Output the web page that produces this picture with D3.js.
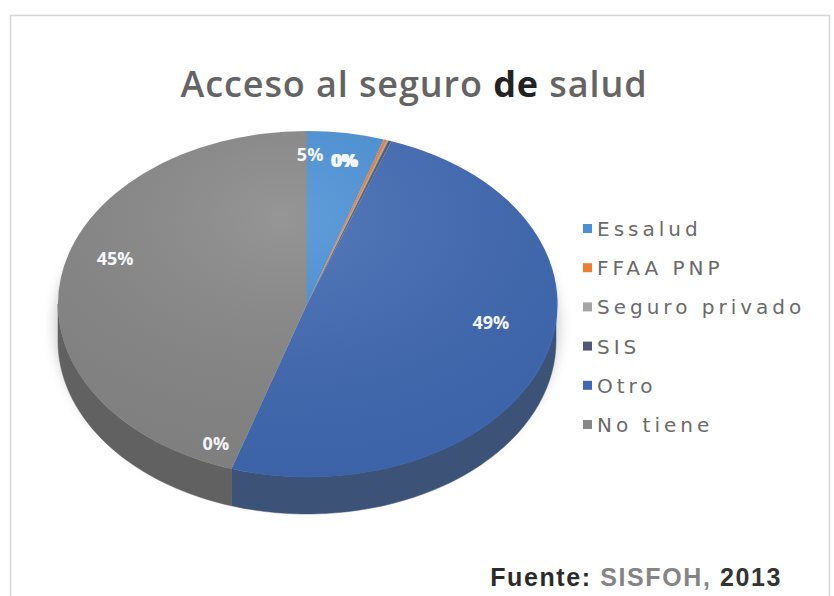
<!DOCTYPE html>
<html>
<head>
<meta charset="utf-8">
<script src="https://cdn.jsdelivr.net/npm/d3@7"></script>
<style>
  body { margin: 0; background: #fff; }
</style>
</head>
<body>
<div class="chart"></div>
<script>
const categories = ['Essalud', 'FFAA PNP', 'Seguro privado', 'SIS', 'Otro', 'No tiene'];
const values = [5.0, 0.2, 0.1, 0.2, 49.4, 45.1];
const labels = ['5%', '0%', '0%', '0%', '49%', '45%'];
const colors = ['#4a90d6', '#ed7d31', '#a5a5a5', '#4f5873', '#4069b3', '#878787'];

function renderPie() {
    const width = 834, height = 596;
    const cx = 307, cy = 304, rx = 249, ry = 173, depth = 37;

    const svg = d3.select('.chart').append('svg')
        .attr('width', width)
        .attr('height', height)
        .attr('viewBox', [0, 0, width, height]);

    const defs = svg.append('defs');
    defs.append('filter').attr('id', 'blur')
        .attr('x', '-20%').attr('y', '-20%').attr('width', '140%').attr('height', '140%')
        .append('feGaussianBlur').attr('stdDeviation', 6);
    const grad = defs.append('radialGradient').attr('id', 'shine')
        .attr('cx', '45%').attr('cy', '25%').attr('r', '75%');
    grad.append('stop').attr('offset', '0%').attr('stop-color', '#fff').attr('stop-opacity', 0.12);
    grad.append('stop').attr('offset', '100%').attr('stop-color', '#000').attr('stop-opacity', 0.06);

    // chart frame
    svg.append('rect')
        .attr('x', 10.5).attr('y', 15.5)
        .attr('width', 819).attr('height', 600)
        .attr('fill', 'none')
        .attr('stroke', '#d6d6d6')
        .attr('stroke-width', 1.5);

    // title
    const title = svg.append('text')
        .attr('x', 414).attr('y', 97)
        .attr('text-anchor', 'middle')
        .style('font-family', '"Open Sans", sans-serif')
        .style('font-size', '36px')
        .style('font-weight', 600)
        .style('letter-spacing', '0.9px')
        .attr('fill', '#646464');
    title.append('tspan').text('Acceso al seguro ');
    title.append('tspan').text('de').attr('fill', '#222').attr('font-weight', 'bold');
    title.append('tspan').text(' salud');

    const color = d3.scaleOrdinal().domain(categories).range(colors);
    const sideColor = d => d3.interpolateRgb(color(d), '#3a3a3a')(0.5);

    const pie = d3.pie().sort(null).value(d => d.value);
    const arcs = pie(categories.map((c, i) => ({name: c, value: values[i], label: labels[i]})));

    const ex = a => cx + rx * Math.sin(a);
    const ey = a => cy - ry * Math.cos(a);

    // soft shadow under the pie
    svg.append('ellipse')
        .attr('cx', cx).attr('cy', cy + depth / 2 + 4)
        .attr('rx', rx + 4).attr('ry', ry + 6)
        .attr('fill', '#9a9a9a')
        .attr('opacity', 0.45)
        .attr('filter', 'url(#blur)');

    // side walls (front half only)
    const line = d3.line();
    const sides = svg.append('g');
    arcs.forEach(d => {
        const s = Math.max(d.startAngle, Math.PI / 2);
        const e = Math.min(d.endAngle, 3 * Math.PI / 2);
        if (s >= e) return;
        const steps = d3.range(0, 41).map(k => s + (e - s) * k / 40);
        const pts = steps.map(a => [ex(a), ey(a)])
            .concat(steps.slice().reverse().map(a => [ex(a), ey(a) + depth]));
        sides.append('path')
            .attr('d', line(pts) + 'Z')
            .attr('fill', sideColor(d.data.name))
            .attr('stroke', sideColor(d.data.name))
            .attr('stroke-width', 0.5);
    });

    // top face
    const arc = d3.arc().innerRadius(0).outerRadius(1);
    const top = svg.append('g')
        .attr('transform', `translate(${cx},${cy}) scale(${rx},${ry})`);
    top.selectAll('path')
        .data(arcs)
        .join('path')
        .attr('d', arc)
        .attr('fill', d => color(d.data.name));
    top.append('circle').attr('r', 1).attr('fill', 'url(#shine)');

    // data labels; the SIS label was moved to the Otro / No tiene edge
    const otroEnd = arcs[categories.indexOf('Otro')].endAngle;
    const labelPos = d => {
        if (d.data.name === 'SIS') return [ex(otroEnd) * 0.85 + cx * 0.15 - 27, cy + (ey(otroEnd) - cy) * 0.85];
        const a = (d.startAngle + d.endAngle) / 2;
        if (d.value < 10) return [cx + (ex(a) - cx) * 0.85 - 30, cy + (ey(a) - cy) * 0.85 - 4];
        return [cx + (ex(a) - cx) * 0.78, cy + (ey(a) - cy) * 0.78 - 25];
    };
    svg.append('g').selectAll('text')
        .data(arcs)
        .join('text')
        .attr('x', d => labelPos(d)[0])
        .attr('y', d => labelPos(d)[1])
        .attr('dy', '0.35em')
        .attr('text-anchor', 'middle')
        .style('font-family', '"Open Sans", sans-serif')
        .style('font-size', '18px')
        .style('font-weight', 'bold')
        .attr('fill', '#f4f6fa')
        .text(d => d.data.label);

    // legend
    const legend = svg.append('g').selectAll('g')
        .data(categories)
        .join('g')
        .attr('transform', (d, i) => `translate(583, ${229 + i * 39.2})`);
    legend.append('rect')
        .attr('x', 0).attr('y', -5)
        .attr('width', 9).attr('height', 9)
        .attr('fill', d => color(d));
    legend.append('text')
        .attr('x', 14)
        .attr('dy', '0.35em')
        .style('font-family', '"DejaVu Sans", sans-serif')
        .style('font-size', '20px')
        .style('letter-spacing', '4px')
        .attr('fill', '#6a6a6a')
        .text(d => d);

    // source
    const src = svg.append('text')
        .attr('x', 782).attr('y', 586)
        .attr('text-anchor', 'end')
        .style('font-family', '"Liberation Sans", Arial, sans-serif')
        .style('font-size', '25px')
        .style('font-weight', 'bold')
        .style('letter-spacing', '1.6px');
    src.append('tspan').text('Fuente: ').attr('fill', '#2b2b2b');
    src.append('tspan').text('SISFOH, ').attr('fill', '#858585');
    src.append('tspan').text('2013').attr('fill', '#333');
}

renderPie();
</script>
</body>
</html>
